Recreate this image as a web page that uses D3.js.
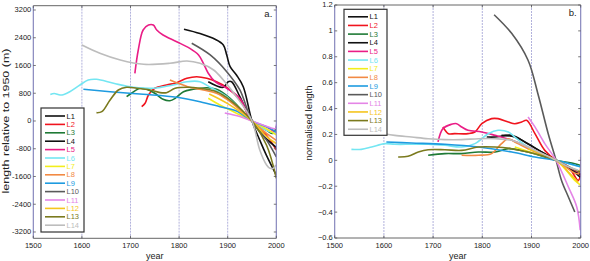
<!DOCTYPE html>
<html><head><meta charset="utf-8">
<script src="https://cdn.jsdelivr.net/npm/d3@7/dist/d3.min.js"></script>
<style>
html,body{margin:0;padding:0;background:#fff;}
svg{display:block;font-family:"Liberation Sans",Arial,Helvetica,sans-serif;}
</style></head>
<body><svg id="c" width="590" height="261"></svg>
<script>
// ---------- data ----------
const seriesNames = ["L1","L2","L3","L4","L5","L6","L7","L8","L9","L10","L11","L12","L13","L14"];
const seriesColors = ["#111111","#f0141e","#1f7a36","#111111","#ea1d86","#74e6f2","#f2ee1c","#f28a44","#1e9be0","#5a5a5a","#e485e6","#f5c51e","#7b7a1e","#bdbdbd"];
const xTicks = [1500,1600,1700,1800,1900,2000];
const gridYears = [1600,1700,1800,1900];
const yTicksA = [-3200,-2400,-1600,-800,0,800,1600,2400,3200];
const yTicksB = [-0.6,-0.4,-0.2,0,0.2,0.4,0.6,0.8,1,1.2];

// panel a: length relative to 1950 (m), [year, value]
const a_L1 = [[1810,2644],[1843,2520],[1874,2355],[1891,2191],[1898,1903],[1905,1565],[1918,1326],[1932,989],[1950,0],[1966,-553],[1980,-1000],[2000,-1560]];
const a_L2 = [[1723,412],[1730,510],[1737,750],[1750,943],[1774,1038],[1795,1104],[1816,1231],[1836,1277],[1857,1231],[1877,1133],[1898,971],[1925,605],[1950,0],[1980,-420],[2000,-836]];
const a_L3 = [[1692,700],[1702,799],[1720,943],[1733,914],[1750,799],[1767,626],[1781,585],[1792,654],[1809,845],[1829,914],[1857,960],[1877,914],[1905,654],[1925,366],[1950,0],[1980,-265],[1993,-361],[2000,-160]];
const a_L4 = [[1860,1133],[1891,971],[1901,1133],[1908,1133],[1925,700],[1950,0],[1975,-450],[2000,-760]];
const a_L5 = [[1709,1375],[1716,2047],[1726,2624],[1737,2768],[1747,2768],[1754,2624],[1767,2479],[1795,2287],[1822,2094],[1840,1903],[1850,1663],[1860,1375],[1874,1133],[1898,943],[1925,654],[1950,0],[1980,-170],[2000,-360]];
const a_L6 = [[1535,765],[1543,794],[1555,750],[1563,765],[1575,845],[1596,1038],[1613,1182],[1630,1202],[1665,1087],[1706,971],[1747,943],[1788,1038],[1816,1133],[1843,1133],[1864,971],[1898,700],[1950,0],[1980,-265],[2000,-361]];
const a_L7 = [[1860,654],[1884,461],[1912,268],[1950,0],[1980,-230],[2000,-400]];
const a_L8 = [[1781,1182],[1795,1104],[1822,971],[1850,894],[1877,799],[1905,556],[1950,0],[1980,-360],[2000,-560]];
const a_L9 = [[1603,914],[1658,845],[1726,770],[1795,683],[1843,556],[1884,412],[1918,288],[1950,0],[1980,-168],[2000,-313]];
const a_L10 = [[1826,2240],[1864,1903],[1898,1421],[1925,894],[1950,0],[1980,-553],[2000,-1035]];
const a_L11 = [[1894,230],[1925,130],[1950,0],[1975,-130],[1998,-220],[2000,-100]];
const a_L12 = [[1862,780],[1900,500],[1950,0],[1980,-450],[2000,-650]];
const a_L13 = [[1630,240],[1641,268],[1658,605],[1675,894],[1692,971],[1713,943],[1740,894],[1761,817],[1774,817],[1792,943],[1816,971],[1843,943],[1877,845],[1905,605],[1950,0],[1980,-700],[2000,-1650]];
const a_L14 = [[1600,2191],[1637,1952],[1679,1759],[1727,1634],[1781,1663],[1816,1730],[1843,1663],[1871,1470],[1891,1182],[1918,700],[1950,0],[1966,-836],[1980,-1268],[1987,-1364],[1994,-1364],[1999,-1268]];
const seriesA = [a_L1,a_L2,a_L3,a_L4,a_L5,a_L6,a_L7,a_L8,a_L9,a_L10,a_L11,a_L12,a_L13,a_L14];

// panel b: normalised length, [year, value]
const b_L1 = [[1839,0.193],[1866,0.180],[1893,0.129],[1920,0.064],[1950,0],[1975,-0.05],[1995,-0.10],[2000,-0.11]];
const b_L2 = [[1720,0.258],[1731,0.206],[1744,0.206],[1771,0.206],[1785,0.219],[1799,0.283],[1819,0.322],[1832,0.322],[1853,0.296],[1866,0.283],[1880,0.296],[1890,0.309],[1907,0.206],[1927,0.077],[1950,0],[1975,-0.05],[1995,-0.155],[2000,-0.10]];
const b_L3 = [[1690,0.039],[1724,0.052],[1758,0.052],[1792,0.064],[1826,0.064],[1853,0.090],[1893,0.064],[1950,0],[1988,-0.026],[2000,-0.04]];
const b_L4 = [[1809,0.180],[1826,0.180],[1860,0.193],[1893,0.125],[1950,0],[1980,-0.07],[1999,-0.13]];
const b_L5 = [[1710,0.142],[1720,0.245],[1737,0.278],[1748,0.283],[1758,0.258],[1771,0.232],[1799,0.219],[1826,0.193],[1860,0.155],[1893,0.103],[1934,0.026],[1950,0],[1975,-0.05],[1995,-0.09]];
const b_L6 = [[1534,0.085],[1554,0.085],[1575,0.103],[1602,0.129],[1622,0.124],[1656,0.124],[1690,0.124],[1724,0.116],[1758,0.103],[1785,0.129],[1812,0.206],[1832,0.232],[1853,0.219],[1866,0.180],[1893,0.103],[1950,0],[1975,-0.026],[1999,-0.05]];
const b_L7 = [[1866,0.103],[1907,0.052],[1950,0],[1988,-0.155],[1999,-0.19]];
const b_L8 = [[1758,0.039],[1792,0.039],[1819,0.052],[1839,0.129],[1853,0.167],[1866,0.142],[1893,0.090],[1950,0],[1995,-0.103],[2000,0.026]];
const b_L9 = [[1605,0.142],[1656,0.134],[1724,0.124],[1792,0.103],[1860,0.064],[1907,0.026],[1950,0],[1999,-0.05]];
const b_L10 = [[1824,1.125],[1860,0.979],[1893,0.773],[1913,0.515],[1934,0.206],[1950,0],[1961,-0.155],[1975,-0.283],[1988,-0.399]];
const b_L11 = [[1893,0.335],[1907,0.258],[1927,0.129],[1950,0],[1975,-0.206],[1992,-0.36],[1999,-0.54]];
const b_L12 = [[1893,0.09],[1950,0],[1975,-0.09],[1995,-0.17]];
const b_L13 = [[1629,0.026],[1649,0.031],[1670,0.064],[1690,0.082],[1724,0.082],[1758,0.077],[1792,0.103],[1826,0.103],[1860,0.090],[1893,0.064],[1950,0],[1975,-0.05],[1999,-0.09]];
const b_L14 = [[1600,0.206],[1622,0.193],[1656,0.180],[1690,0.167],[1724,0.160],[1758,0.160],[1792,0.167],[1826,0.167],[1860,0.155],[1893,0.103],[1950,0],[1975,-0.05],[1995,-0.077]];
const seriesB = [b_L1,b_L2,b_L3,b_L4,b_L5,b_L6,b_L7,b_L8,b_L9,b_L10,b_L11,b_L12,b_L13,b_L14];

// ---------- drawing ----------
const svg = d3.select("#c");

function panel(cfg){
  const g = svg.append("g");
  const x = d3.scaleLinear().domain([1500,2000]).range([cfg.x0,cfg.x1]);
  const y = d3.scaleLinear().domain(cfg.ydom).range([cfg.y1,cfg.y0]);
  const clipId = "clip"+cfg.id;
  svg.append("clipPath").attr("id",clipId).append("rect")
    .attr("x",cfg.x0).attr("y",cfg.y0).attr("width",cfg.x1-cfg.x0).attr("height",cfg.y1-cfg.y0);

  // grid
  g.selectAll("line.grid").data(gridYears).join("line")
    .attr("x1",d=>x(d)).attr("x2",d=>x(d)).attr("y1",cfg.y0).attr("y2",cfg.y1)
    .attr("stroke","#a9a9d8").attr("stroke-width",0.9).attr("stroke-dasharray","2,1");

  // lines
  const line = d3.line().x(d=>x(d[0])).y(d=>y(d[1])).curve(d3.curveCatmullRom.alpha(0.5));
  const lg = g.append("g").attr("clip-path",`url(#${clipId})`);
  cfg.series.forEach((s,i)=>{
    lg.append("path").attr("d",line(s)).attr("fill","none")
      .attr("stroke",seriesColors[i]).attr("stroke-width",1.6).attr("stroke-linejoin","round");
  });

  // frame
  g.append("line").attr("x1",cfg.x0).attr("x2",cfg.x1).attr("y1",cfg.y0).attr("y2",cfg.y0).attr("stroke","#555").attr("stroke-width",0.9);
  g.append("line").attr("x1",cfg.x0).attr("x2",cfg.x1).attr("y1",cfg.y1).attr("y2",cfg.y1).attr("stroke","#555").attr("stroke-width",0.9);
  g.append("line").attr("x1",cfg.x0).attr("x2",cfg.x0).attr("y1",cfg.y0).attr("y2",cfg.y1).attr("stroke","#7d7db8").attr("stroke-width",1.1);
  g.append("line").attr("x1",cfg.x1).attr("x2",cfg.x1).attr("y1",cfg.y0).attr("y2",cfg.y1).attr("stroke","#7d7db8").attr("stroke-width",1.1);

  // y ticks (both sides, inward) + labels
  const yt = g.selectAll("g.yt").data(cfg.yticks).join("g");
  yt.append("line").attr("x1",cfg.x0).attr("x2",cfg.x0+2.5).attr("y1",d=>y(d)).attr("y2",d=>y(d)).attr("stroke","#555").attr("stroke-width",0.8);
  yt.append("line").attr("x1",cfg.x1).attr("x2",cfg.x1-2.5).attr("y1",d=>y(d)).attr("y2",d=>y(d)).attr("stroke","#555").attr("stroke-width",0.8);
  yt.append("text").attr("x",cfg.x0-2).attr("y",d=>y(d)).attr("dy","0.32em")
    .attr("text-anchor","end").attr("font-size","7.5px").attr("fill","#222").text(cfg.yfmt);

  // x ticks
  const xt = g.selectAll("g.xt").data(xTicks).join("g");
  xt.append("line").attr("x1",d=>x(d)).attr("x2",d=>x(d)).attr("y1",cfg.y1).attr("y2",cfg.y1-2.5).attr("stroke","#555").attr("stroke-width",0.8);
  xt.append("line").attr("x1",d=>x(d)).attr("x2",d=>x(d)).attr("y1",cfg.y0).attr("y2",cfg.y0+2.5).attr("stroke","#555").attr("stroke-width",0.8);
  xt.append("text").attr("x",d=>x(d)).attr("y",cfg.y1+9.8)
    .attr("text-anchor","middle").attr("font-size","7.5px").attr("fill","#222").text(d=>d);

  // axis labels
  g.append("text").attr("x",(cfg.x0+cfg.x1)/2).attr("y",258.5).attr("text-anchor","middle")
    .attr("font-size","9px").attr("fill","#222").text("year");
  g.append("text").attr("transform",`translate(${cfg.ylabX},${cfg.ylabY}) scale(${cfg.ylabSx},1) rotate(-90)`)
    .attr("text-anchor","middle").attr("font-size",cfg.ylabSize).attr("fill","#222").text(cfg.ylabel);

  // panel letter
  g.append("text").attr("x",cfg.x1-4).attr("y",cfg.y0+11).attr("text-anchor","end")
    .attr("font-size","9.5px").attr("fill","#222").text(cfg.letter);

  // legend
  const L = cfg.leg;
  g.append("rect").attr("x",L.x).attr("y",L.y).attr("width",L.w).attr("height",L.h)
    .attr("fill","#fff").attr("stroke","#333").attr("stroke-width",1.2);
  seriesNames.forEach((n,i)=>{
    const yy = L.y+L.first+i*L.step;
    g.append("line").attr("x1",L.x+4).attr("x2",L.x+24).attr("y1",yy).attr("y2",yy)
      .attr("stroke",seriesColors[i]).attr("stroke-width",1.6);
    g.append("text").attr("x",L.x+25.5).attr("y",yy).attr("dy","0.35em")
      .attr("font-size","7.5px").attr("fill",seriesColors[i]).text(n);
  });
}

panel({id:"a",x0:33.3,x1:276.3,y0:5.7,y1:238.3,ydom:[-3382,3324],yticks:yTicksA,yfmt:d=>d,
  series:seriesA,ylabel:"length relative to 1950 (m)",ylabX:8.5,ylabY:121,ylabSx:0.78,ylabSize:"12.5px",letter:"a.",
  leg:{x:41,y:108,w:43,h:124,first:8,step:8.4}});
panel({id:"b",x0:334.7,x1:580.7,y0:5,y1:238,ydom:[-0.6,1.2],yticks:yTicksB,yfmt:d=>d3.format("~g")(+d.toFixed(1)),
  series:seriesB,ylabel:"normalised length",ylabX:312,ylabY:123,ylabSx:1,ylabSize:"9.5px",letter:"b.",
  leg:{x:344,y:9.3,w:43,h:126,first:7.5,step:8.65}});
</script></body></html>
